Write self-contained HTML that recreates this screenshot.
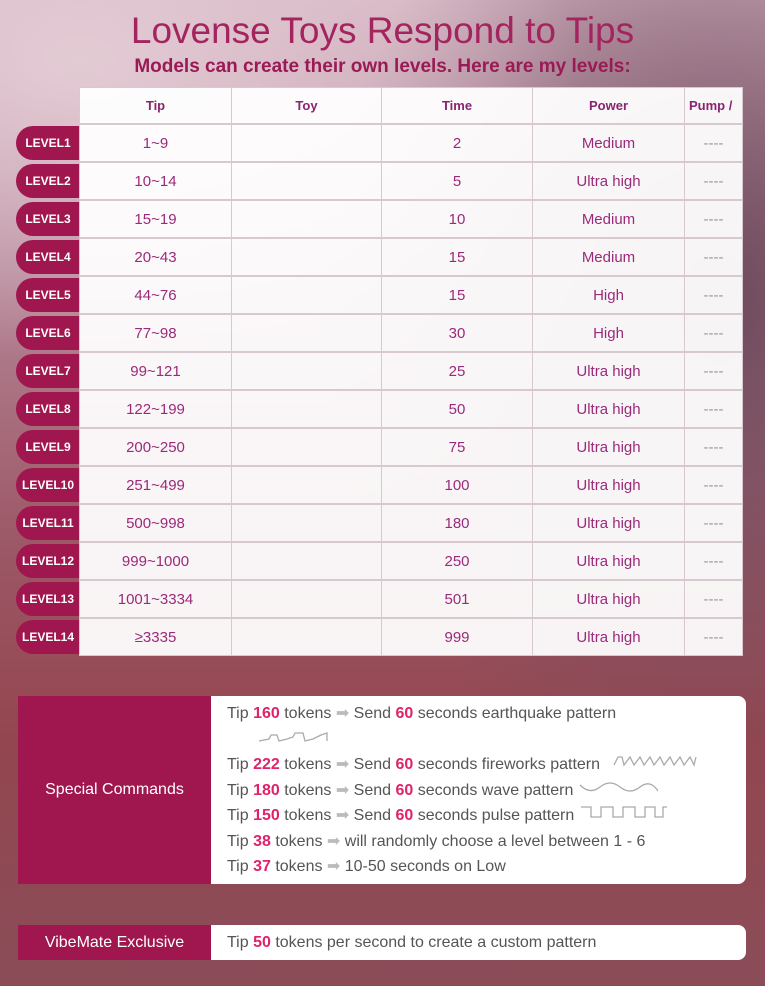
<!DOCTYPE html>
<html><head><style>
body{margin:0;width:765px;height:986px;overflow:hidden;font-family:"Liberation Sans",sans-serif;
background:
radial-gradient(ellipse 500px 300px at 80px 60px,#e3cbd4 0%,rgba(227,203,212,0) 100%),
radial-gradient(ellipse 400px 500px at 720px 300px,#6e4a5c 0%,rgba(110,74,92,0) 100%),
linear-gradient(180deg,#d4b4c2 0%,#b78a9c 25%,#9c5866 55%,#93464f 75%,#8a4d58 100%);position:relative}
.t{position:absolute;left:0;width:765px;text-align:center;color:#a01e5a}
.cell{position:absolute;background:rgba(255,255,255,0.94);box-shadow:0 0 0 1px #d8c8d0;color:#9a2a7a;font-size:15px;text-align:center;display:flex;align-items:center;justify-content:center}
.h{font-weight:bold;font-size:13px;color:#8a2470}
.lv{position:absolute;left:16px;width:64px;height:34px;background:#a0164e;color:#fff;font-weight:bold;font-size:12px;border-radius:17px 0 0 17px;display:flex;align-items:center;justify-content:center}
.box{position:absolute;left:18px;width:728px;background:#fff;border-radius:0 8px 8px 0;overflow:hidden}
.lab{position:absolute;left:0;top:0;bottom:0;width:193px;background:#a0164e;color:#fff;font-size:16px;display:flex;align-items:center;justify-content:center}
.txt{position:absolute;left:209px;color:#555;font-size:16px;line-height:25.5px}
b{color:#e0226a}
.ar{color:#bbb}
</style></head><body>
<div class="t" style="top:10px;font-size:37px;color:#a3245e">Lovense Toys Respond to Tips</div>
<div class="t" style="top:56px;font-size:19px;font-weight:bold;color:#9a1a55">Models can create their own levels. Here are my levels:</div>
<div class="cell h" style="left:80px;top:88px;width:151px;height:35px">Tip</div>
<div class="cell h" style="left:232px;top:88px;width:149px;height:35px">Toy</div>
<div class="cell h" style="left:382px;top:88px;width:150px;height:35px">Time</div>
<div class="cell h" style="left:533px;top:88px;width:151px;height:35px">Power</div>
<div class="cell h" style="left:685px;top:88px;width:57px;height:35px;justify-content:flex-start;padding-left:4px;box-sizing:border-box">Pump /</div>
<div id="rows"></div>
<script>
var d=[["1~9",2,"Medium"],["10~14",5,"Ultra high"],["15~19",10,"Medium"],["20~43",15,"Medium"],["44~76",15,"High"],["77~98",30,"High"],["99~121",25,"Ultra high"],["122~199",50,"Ultra high"],["200~250",75,"Ultra high"],["251~499",100,"Ultra high"],["500~998",180,"Ultra high"],["999~1000",250,"Ultra high"],["1001~3334",501,"Ultra high"],["≥3335",999,"Ultra high"]];
var h="";d.forEach(function(r,i){var y=125+38*i;
h+='<div class="lv" style="top:'+(y+1)+'px">LEVEL'+(i+1)+'</div>';
h+='<div class="cell" style="left:80px;top:'+y+'px;width:151px;height:36px">'+r[0]+'</div>';
h+='<div class="cell" style="left:232px;top:'+y+'px;width:149px;height:36px"></div>';
h+='<div class="cell" style="left:382px;top:'+y+'px;width:150px;height:36px">'+r[1]+'</div>';
h+='<div class="cell" style="left:533px;top:'+y+'px;width:151px;height:36px">'+r[2]+'</div>';
h+='<div class="cell" style="left:685px;top:'+y+'px;width:57px;height:36px;color:#999">----</div>';});
document.getElementById("rows").innerHTML=h;
</script>
<div class="box" style="top:696px;height:188px">
<div class="lab">Special Commands</div>
<div class="txt" style="top:5px">
Tip <b>160</b> tokens <span class="ar">➡</span> Send <b>60</b> seconds earthquake pattern<br>
<svg width="80" height="20" style="margin-left:30px;vertical-align:middle"><polyline points="2,12 12,10 14,6 20,6 22,12 30,10 36,8 38,4 46,4 48,12 56,10 64,6 70,4 70,12" fill="none" stroke="#aaa" stroke-width="1.3"/></svg><br>
Tip <b>222</b> tokens <span class="ar">➡</span> Send <b>60</b> seconds fireworks pattern <svg width="90" height="16" style="margin-left:8px"><polyline points="2,12 6,4 10,4 12,12 18,4 22,12 28,4 32,12 38,4 42,12 48,4 52,12 58,4 62,12 68,4 72,12 78,4 82,12 84,4" fill="none" stroke="#aaa" stroke-width="1.3"/></svg><br>
Tip <b>180</b> tokens <span class="ar">➡</span> Send <b>60</b> seconds wave pattern <svg width="80" height="16"><path d="M2,6 Q12,16 22,8 T42,8 T62,8 T80,12" fill="none" stroke="#aaa" stroke-width="1.3"/></svg><br>
Tip <b>150</b> tokens <span class="ar">➡</span> Send <b>60</b> seconds pulse pattern <svg width="90" height="16"><polyline points="2,3 12,3 12,13 22,13 22,3 34,3 34,13 44,13 44,3 56,3 56,13 66,13 66,3 76,3 76,13 84,13 84,3 88,3" fill="none" stroke="#aaa" stroke-width="1.3"/></svg><br>
Tip <b>38</b> tokens <span class="ar">➡</span> will randomly choose a level between 1 - 6<br>
Tip <b>37</b> tokens <span class="ar">➡</span> 10-50 seconds on Low
</div></div>
<div class="box" style="top:925px;height:35px">
<div class="lab">VibeMate Exclusive</div>
<div class="txt" style="top:5px">Tip <b>50</b> tokens per second to create a custom pattern</div>
</div>
</body></html>
